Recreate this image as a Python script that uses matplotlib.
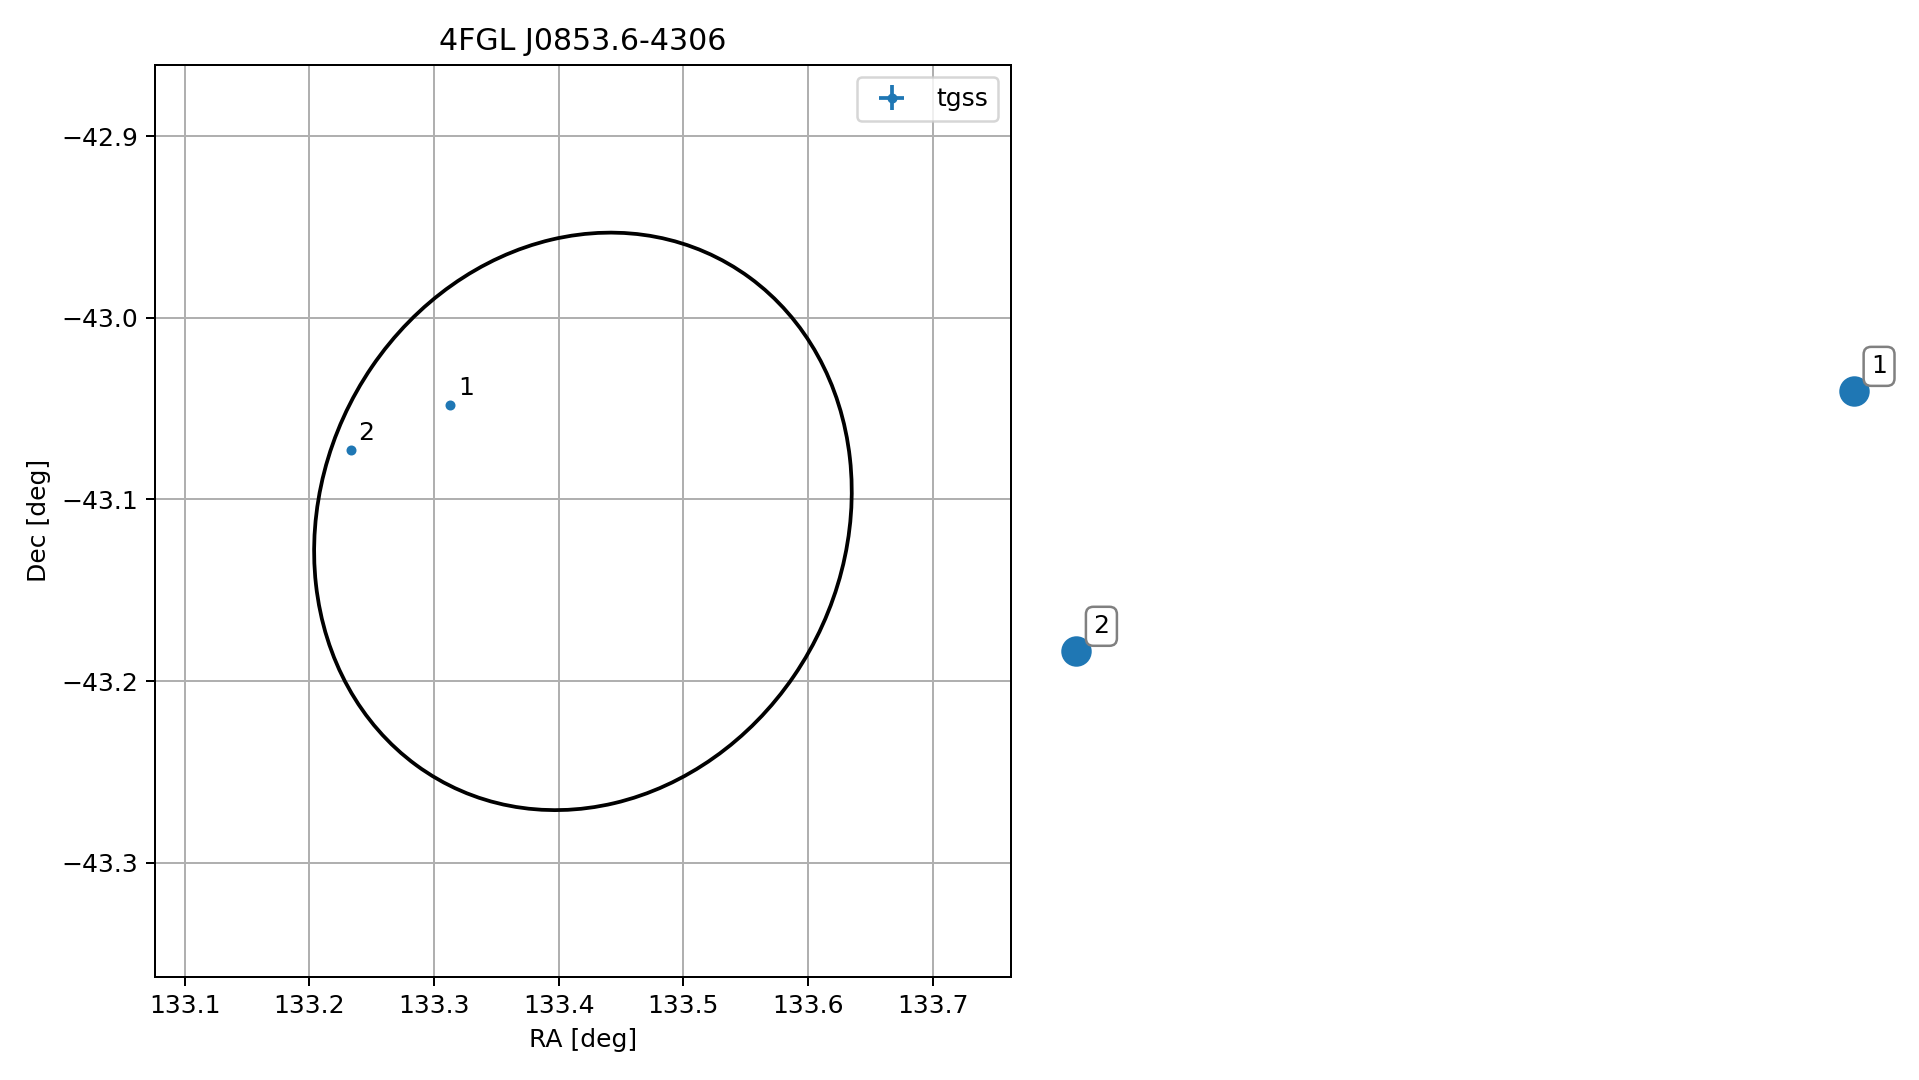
import matplotlib
matplotlib.use("Agg")
import matplotlib.pyplot as plt
from matplotlib.patches import Ellipse

# ---- data ----
title = "4FGL J0853.6-4306"
src_ra = [133.3130, 133.2333]
src_dec = [-43.0479, -43.0727]
src_ra_err = [0.0008, 0.0008]
src_dec_err = [0.0008, 0.0008]
src_labels = ["1", "2"]

ell_center = (133.4194, -43.1121)
ell_width = 0.434
ell_height = 0.3143
ell_angle = 9.2

xlim = (133.0764, 133.7628)
ylim = (-43.3628, -42.8608)
xticks = [133.1, 133.2, 133.3, 133.4, 133.5, 133.6, 133.7]
yticks = [-42.9, -43.0, -43.1, -43.2, -43.3]
right_ylim = (-43.1038, -43.0168)

# ---- figure ----
DPI = 180
fig = plt.figure(figsize=(1919 / DPI, 1080 / DPI), dpi=DPI)

ax = fig.add_axes([0.0810, 0.0956, 0.4458, 0.8443])
ax.errorbar(src_ra, src_dec, xerr=src_ra_err, yerr=src_dec_err,
            fmt=".", color="C0", label="tgss")
ax.add_patch(Ellipse(ell_center, ell_width, ell_height, angle=ell_angle,
                     fill=False, edgecolor="black", lw=1.5, zorder=2))
for ra, dec, lab in zip(src_ra, src_dec, src_labels):
    ax.annotate(lab, (ra, dec), xytext=(3, 4), textcoords="offset points")
ax.set_xlim(xlim)
ax.set_ylim(ylim)
ax.set_xticks(xticks)
ax.set_yticks(yticks)
ax.grid(True)
ax.set_xlabel("RA [deg]")
ax.set_ylabel("Dec [deg]")
ax.set_title(title)
ax.legend(loc="upper right")

ax2 = fig.add_axes([0.5404, 0.0956, 0.4458, 0.8443])
ax2.scatter(src_ra, src_dec, s=125, color="C0")
for ra, dec, lab in zip(src_ra, src_dec, src_labels):
    ax2.annotate(lab, (ra, dec), xytext=(7, 5), textcoords="offset points",
                 ha="left", va="bottom",
                 bbox=dict(boxstyle="round", fc="white", ec="0.5"))
ax2.set_ylim(right_ylim)
ax2.axis("off")

fig.savefig("out.png", dpi=DPI)
